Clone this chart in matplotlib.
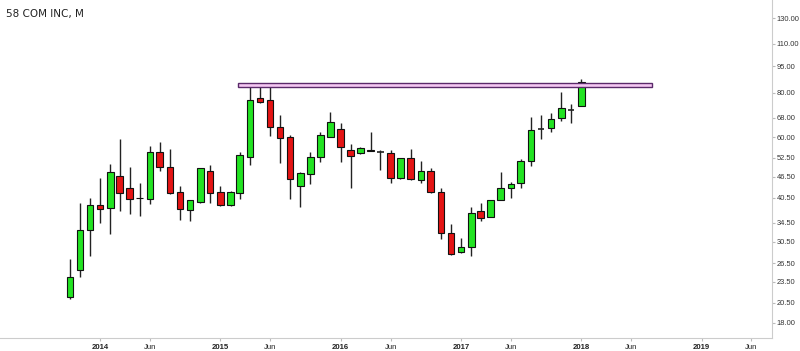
import numpy as np
import pandas as pd
import matplotlib
matplotlib.use("Agg")
import matplotlib.pyplot as plt
import matplotlib.dates as mdates
from matplotlib.patches import Rectangle
from matplotlib.ticker import FixedLocator, NullLocator

# monthly candles, Oct 2013 .. Jan 2018
months = pd.date_range("2013-10-01", periods=52, freq="MS")

opens = [21.3, 25.4, 32.9, 38.7, 37.9, 46.7, 43.2, 40.6, 40.2, 54.5,
         49.5, 42.1, 37.4, 39.4, 48.2, 42.1, 38.7, 41.8, 52.8, 77.4,
         76.4, 64.1, 60.1, 43.7, 47.3, 52.8, 60.1, 63.3, 55.3, 54.2,
         55.3, 54.5, 54.2, 46.1, 52.5, 45.5, 48.2, 42.1, 32.3, 28.5,
         29.5, 37.2, 35.8, 40.0, 43.2, 44.6, 51.5, 63.3, 63.7, 68.0,
         71.6, 73.5]
highs = [27.3, 39.2, 40.5, 46.1, 50.5, 59.3, 49.5, 44.6, 56.7, 58.2,
         55.6, 43.7, 40.0, 49.2, 50.1, 43.7, 42.3, 54.5, 84.2, 83.1,
         83.1, 69.3, 60.9, 47.9, 54.5, 62.1, 70.7, 65.8, 57.4, 56.2,
         62.1, 55.3, 55.3, 52.5, 55.6, 51.5, 49.2, 43.2, 34.2, 31.2,
         38.2, 39.2, 40.0, 47.9, 44.9, 52.1, 68.4, 69.3, 70.2, 80.5,
         74.4, 87.5]
lows = [21.0, 24.3, 27.8, 34.4, 32.1, 37.2, 36.5, 36.0, 38.9, 48.2,
        41.5, 35.1, 34.9, 39.2, 39.2, 38.4, 38.5, 40.2, 50.1, 74.9,
        60.5, 50.8, 40.2, 38.2, 44.3, 51.1, 60.1, 51.1, 43.2, 54.0,
        54.9, 48.5, 44.6, 45.8, 45.5, 44.6, 41.8, 31.0, 28.0, 28.3,
        27.8, 34.9, 35.8, 40.0, 40.5, 43.2, 49.8, 59.3, 62.1, 66.7,
        65.8, 73.5]
closes = [24.3, 32.9, 38.7, 37.7, 47.9, 41.8, 40.2, 40.4, 54.5, 49.5,
          41.8, 37.7, 40.0, 49.2, 41.8, 38.7, 42.1, 53.5, 76.4, 75.4,
          64.1, 59.7, 45.8, 47.6, 52.8, 60.9, 66.2, 56.3, 53.1, 56.0,
          54.9, 54.5, 46.1, 52.5, 45.8, 48.2, 42.1, 32.3, 28.2, 29.5,
          36.7, 35.6, 40.0, 43.2, 44.3, 51.5, 62.9, 63.3, 67.5, 72.5,
          71.6, 85.9]

# resistance zone
zone_low = 83.1
zone_high = 85.3
zone_start = "2015-02-25"
zone_end = "2018-08-05"

yticks = [18.00, 20.50, 23.50, 26.50, 30.50, 34.50, 40.50, 46.50,
          52.50, 60.00, 68.00, 80.00, 95.00, 110.00, 130.00]
xtick_dates = ["2014-01-01", "2014-06-01", "2015-01-01", "2015-06-01",
               "2016-01-01", "2016-06-01", "2017-01-01", "2017-06-01",
               "2018-01-01", "2018-06-01", "2019-01-01", "2019-06-01"]
xtick_labels = ["2014", "Jun", "2015", "Jun", "2016", "Jun",
                "2017", "Jun", "2018", "Jun", "2019", "Jun"]

green = "#22e322"
red = "#e41414"

fig = plt.figure(figsize=(8, 3.51), dpi=100)
ax = fig.add_axes([0, 0.037, 0.965, 0.963])
ax.set_yscale("log")

x = mdates.date2num(months)
w = 20
for i in range(len(x)):
    o, h, l, c = opens[i], highs[i], lows[i], closes[i]
    col = green if c >= o else red
    ax.vlines(x[i], l, h, color="#222222", lw=1, zorder=2)
    lo_b = min(o, c)
    hi_b = max(o, c)
    if hi_b / lo_b < 1.004:
        ax.hlines(o, x[i] - w / 2, x[i] + w / 2, color="#222222", lw=1.2, zorder=3)
    else:
        ax.add_patch(Rectangle((x[i] - w / 2, lo_b), w, hi_b - lo_b,
                               facecolor=col, edgecolor="#111111", lw=0.8, zorder=3))

z0 = mdates.datestr2num(zone_start)
z1 = mdates.datestr2num(zone_end)
ax.add_patch(Rectangle((z0, zone_low), z1 - z0, zone_high - zone_low,
                       facecolor="#f6c8f4", edgecolor="#5a2a6a", lw=1, zorder=4))

ax.set_xlim(mdates.datestr2num("2013-03-03"), mdates.datestr2num("2019-08-03"))
ax.set_ylim(16.33, 146.1)

ax.yaxis.tick_right()
ax.yaxis.set_major_locator(FixedLocator(yticks))
ax.yaxis.set_minor_locator(NullLocator())
ax.set_yticklabels(["%.2f" % v for v in yticks], fontsize=5.4, color="#333333",
                   family="Liberation Sans")
ax.tick_params(axis="y", length=2, color="#bbbbbb", pad=1.5)

ax.set_xticks(mdates.datestr2num(xtick_dates))
ax.set_xticklabels(xtick_labels, fontsize=5.6, color="#222222", family="Liberation Sans")
for lab in ax.get_xticklabels():
    if lab.get_text() != "Jun":
        lab.set_fontweight("bold")
ax.tick_params(axis="x", length=2, color="#bbbbbb", pad=2)

for s in ["left", "top"]:
    ax.spines[s].set_visible(False)
for s in ["right", "bottom"]:
    ax.spines[s].set_color("#cccccc")
    ax.spines[s].set_linewidth(0.8)

fig.text(0.008, 0.975, "58 COM INC, M", fontsize=7.5, color="#222222", va="top")

fig.savefig("out.png", dpi=100)
